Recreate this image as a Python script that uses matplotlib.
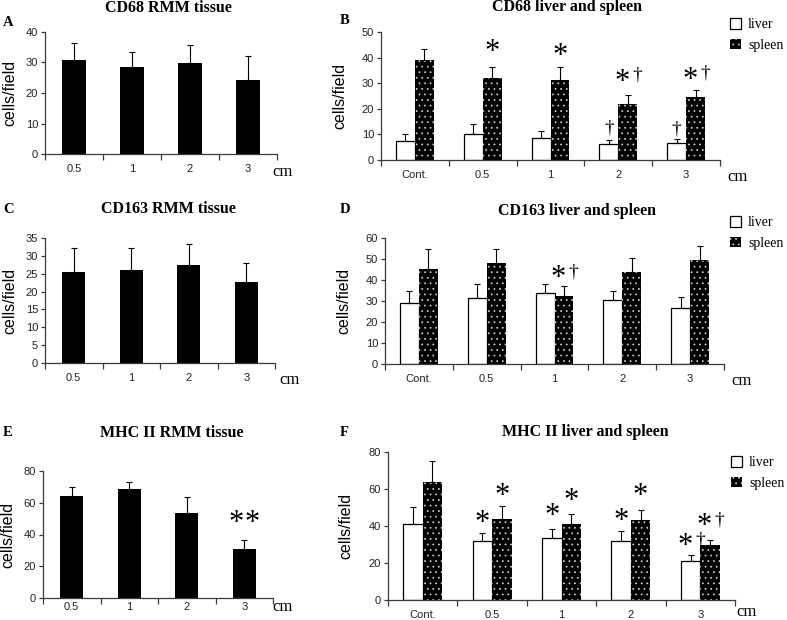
import matplotlib
import numpy as np

matplotlib.use("Agg")
import matplotlib.pyplot as plt
from matplotlib.patches import Patch

# ---- data ----
cats_rmm = ["0.5", "1", "2", "3"]
cats_ls = ["Cont.", "0.5", "1", "2", "3"]

cd68_rmm = [30.7, 28.4, 29.8, 24.4]
cd68_rmm_err = [5.7, 5.0, 6.1, 7.7]
cd68_liver = [7.5, 10.2, 8.7, 6.2, 6.8]
cd68_liver_err = [2.5, 3.8, 2.8, 1.8, 1.5]
cd68_spleen = [39.0, 32.0, 31.2, 21.8, 24.5]
cd68_spleen_err = [4.5, 4.5, 5.1, 3.7, 2.8]

cd163_rmm = [25.6, 26.0, 27.5, 22.7]
cd163_rmm_err = [6.7, 6.3, 5.8, 5.2]
cd163_liver = [29.2, 31.2, 33.6, 30.7, 26.8]
cd163_liver_err = [5.5, 6.7, 4.5, 4.0, 5.0]
cd163_spleen = [45.1, 48.3, 32.3, 43.6, 49.3]
cd163_spleen_err = [9.6, 6.5, 5.0, 6.8, 6.8]

mhc_rmm = [64.2, 68.5, 53.5, 30.6]
mhc_rmm_err = [5.6, 4.4, 10.1, 6.1]
mhc_liver = [41.3, 31.8, 33.5, 31.9, 21.0]
mhc_liver_err = [9.0, 4.2, 4.9, 5.4, 3.1]
mhc_spleen = [63.6, 43.8, 41.2, 43.3, 29.7]
mhc_spleen_err = [11.6, 7.0, 5.4, 5.5, 2.7]

# significance marks: (category index, series, label, y value of the mark)
marks_b = [(1, "spleen", "*", 44.1), (2, "spleen", "*", 42.2),
           (3, "spleen", "*†", 32.4), (4, "spleen", "*†", 33.2),
           (3, "liver", "†", 12.9), (4, "liver", "†", 12.5)]
marks_d = [(2, "spleen", "*†", 43.0)]
marks_e = [(3, None, "**", 50.0)]
marks_f = [(1, "liver", "*", 44.3), (2, "liver", "*", 48.0), (3, "liver", "*", 45.4),
           (1, "spleen", "*", 58.4), (2, "spleen", "*", 56.0), (3, "spleen", "*", 58.4),
           (4, "liver", "*†", 31.4), (4, "spleen", "*†", 42.4)]

W, H = 787, 620
SERIF = "Liberation Serif"
SANS = "Liberation Sans"
AXCOL = "#3a3a3a"
PAIR_W = 0.28
SINGLE_W = 0.4

plt.rcParams["hatch.linewidth"] = 0.5

fig = plt.figure(figsize=(W / 100, H / 100), dpi=100)


def add_axes(left, top, right, bottom):
    return fig.add_axes([left / W, 1 - bottom / H, (right - left) / W, (bottom - top) / H])


def ftext(x, y, s, **kw):
    fig.text(x / W, 1 - y / H, s, **kw)


def style_axes(ax, cats, ymax, ystep, label_pad, ylab_x):
    n = len(cats)
    for side in ("top", "right"):
        ax.spines[side].set_visible(False)
    for side in ("left", "bottom"):
        ax.spines[side].set_color(AXCOL)
        ax.spines[side].set_linewidth(0.9)
    ax.set_xlim(-0.5, n - 0.5)
    ax.set_ylim(0, ymax)
    ax.set_yticks(np.arange(0, ymax + 0.1, ystep))
    ax.set_xticks(range(n))
    ax.set_xticklabels(cats, fontfamily=SANS, fontsize=8, color="#222222")
    ax.set_xticks(np.arange(n + 1) - 0.5, minor=True)
    ax.tick_params(axis="x", which="major", length=0, pad=label_pad)
    ax.tick_params(axis="x", which="minor", length=4, width=0.9, color=AXCOL, direction="out")
    ax.tick_params(axis="y", length=3, width=0.9, color=AXCOL, direction="out", pad=2,
                   labelsize=8, labelcolor="#222222")
    for lab in ax.get_yticklabels():
        lab.set_fontfamily(SANS)
    ax.set_ylabel("cells/field", fontfamily=SANS, fontsize=11.5)
    ax.yaxis.set_label_coords(ylab_x, 0.5)


def single_panel(ax, means, errs):
    x = np.arange(len(means))
    ax.bar(x, means, width=SINGLE_W, color="black", linewidth=0)
    ax.errorbar(x, means, yerr=[np.zeros(len(errs)), errs], fmt="none", ecolor="black",
                elinewidth=0.8, capsize=2.5, capthick=0.8)
    return x


def pair_panel(ax, liver, liver_err, spleen, spleen_err):
    x = np.arange(len(liver))
    xl = x - PAIR_W / 2
    xs = x + PAIR_W / 2
    ax.bar(xl, liver, width=PAIR_W, color="white", edgecolor="black", linewidth=0.9)
    ax.bar(xs, spleen, width=PAIR_W, color="black", edgecolor="#d8d8d8", hatch="...",
           linewidth=0)
    ax.errorbar(xl, liver, yerr=[np.zeros(len(liver)), liver_err], fmt="none",
                ecolor="black", elinewidth=0.8, capsize=2.5, capthick=0.8)
    ax.errorbar(xs, spleen, yerr=[np.zeros(len(spleen)), spleen_err], fmt="none",
                ecolor="black", elinewidth=0.8, capsize=2.5, capthick=0.8)
    return xl, xs


def draw_marks(ax, marks, positions):
    for idx, series, label, y in marks:
        xc = positions[series][idx]
        if label == "**":
            for dx in (-6, 6):
                ax.annotate("*", (xc, y), xytext=(dx, -9), textcoords="offset points",
                            ha="center", va="baseline", fontfamily=SERIF, fontsize=22)
        elif label == "*":
            ax.annotate("*", (xc, y), xytext=(0, -9), textcoords="offset points",
                        ha="center", va="baseline", fontfamily=SERIF, fontsize=22)
        elif label == "*†":
            ax.annotate("*", (xc, y), xytext=(-4, -9), textcoords="offset points",
                        ha="center", va="baseline", fontfamily=SERIF, fontsize=22)
            ax.annotate("†", (xc, y), xytext=(7, -2), textcoords="offset points",
                        ha="center", va="baseline", fontfamily=SERIF, fontsize=14)
        elif label == "†":
            ax.annotate("†", (xc, y), xytext=(0, -4), textcoords="offset points",
                        ha="center", va="baseline", fontfamily=SERIF, fontsize=14)


def add_legend(x, y):
    handles = [Patch(facecolor="white", edgecolor="black", linewidth=0.9, label="liver"),
               Patch(facecolor="black", edgecolor="#d8d8d8", hatch="...", linewidth=0,
                     label="spleen")]
    fig.legend(handles=handles, loc="upper left", bbox_to_anchor=(x / W, 1 - y / H),
               bbox_transform=fig.transFigure, frameon=False, borderpad=0,
               borderaxespad=0, handlelength=0.8, handleheight=0.8, handletextpad=0.5,
               labelspacing=0.55, prop={"family": SERIF, "size": 10})


# ---- A: CD68 RMM tissue ----
ax = add_axes(45, 32, 277, 154)
x = single_panel(ax, cd68_rmm, cd68_rmm_err)
style_axes(ax, cats_rmm, 40, 10, 7, -0.12)
ftext(168, 8, "CD68 RMM tissue", ha="center", va="center", fontfamily=SERIF,
      fontweight="bold", fontsize=11.5)
ftext(3, 22, "A", ha="left", va="center", fontfamily=SERIF, fontweight="bold", fontsize=10.5)
ftext(283, 172, "cm", ha="center", va="center", fontfamily=SERIF, fontsize=12)

# ---- B: CD68 liver and spleen ----
ax = add_axes(381, 32, 720, 160)
xl, xs = pair_panel(ax, cd68_liver, cd68_liver_err, cd68_spleen, cd68_spleen_err)
style_axes(ax, cats_ls, 50, 10, 7, -0.1)
draw_marks(ax, marks_b, {"liver": xl, "spleen": xs})
ftext(567, 7, "CD68 liver and spleen", ha="center", va="center", fontfamily=SERIF,
      fontweight="bold", fontsize=11.5)
ftext(340, 20, "B", ha="left", va="center", fontfamily=SERIF, fontweight="bold", fontsize=10.5)
ftext(738, 177, "cm", ha="center", va="center", fontfamily=SERIF, fontsize=12)
add_legend(730, 18)

# ---- C: CD163 RMM tissue ----
ax = add_axes(45, 238, 275, 363)
single_panel(ax, cd163_rmm, cd163_rmm_err)
style_axes(ax, cats_rmm, 35, 5, 7, -0.12)
ftext(168, 209, "CD163 RMM tissue", ha="center", va="center", fontfamily=SERIF,
      fontweight="bold", fontsize=11.5)
ftext(3, 210, "C", ha="left", va="center", fontfamily=SERIF, fontweight="bold", fontsize=10.5)
ftext(290, 380, "cm", ha="center", va="center", fontfamily=SERIF, fontsize=12)

# ---- D: CD163 liver and spleen ----
ax = add_axes(385, 238, 724, 364)
xl, xs = pair_panel(ax, cd163_liver, cd163_liver_err, cd163_spleen, cd163_spleen_err)
style_axes(ax, cats_ls, 60, 10, 7, -0.1)
draw_marks(ax, marks_d, {"liver": xl, "spleen": xs})
ftext(577, 211, "CD163 liver and spleen", ha="center", va="center", fontfamily=SERIF,
      fontweight="bold", fontsize=11.5)
ftext(340, 210, "D", ha="left", va="center", fontfamily=SERIF, fontweight="bold", fontsize=10.5)
ftext(742, 381, "cm", ha="center", va="center", fontfamily=SERIF, fontsize=12)
add_legend(730, 216)

# ---- E: MHC II RMM tissue ----
ax = add_axes(43, 471, 273, 598)
x = single_panel(ax, mhc_rmm, mhc_rmm_err)
style_axes(ax, cats_rmm, 80, 20, 3, -0.12)
draw_marks(ax, marks_e, {None: x})
ftext(172, 433, "MHC II RMM tissue", ha="center", va="center", fontfamily=SERIF,
      fontweight="bold", fontsize=11.5)
ftext(3, 433, "E", ha="left", va="center", fontfamily=SERIF, fontweight="bold", fontsize=10.5)
ftext(283, 607, "cm", ha="center", va="center", fontfamily=SERIF, fontsize=12)

# ---- F: MHC II liver and spleen ----
ax = add_axes(388, 452, 735, 600)
xl, xs = pair_panel(ax, mhc_liver, mhc_liver_err, mhc_spleen, mhc_spleen_err)
style_axes(ax, cats_ls, 80, 20, 7, -0.1)
draw_marks(ax, marks_f, {"liver": xl, "spleen": xs})
ftext(585, 432, "MHC II liver and spleen", ha="center", va="center", fontfamily=SERIF,
      fontweight="bold", fontsize=11.5)
ftext(340, 433, "F", ha="left", va="center", fontfamily=SERIF, fontweight="bold", fontsize=10.5)
ftext(747, 612, "cm", ha="center", va="center", fontfamily=SERIF, fontsize=12)
add_legend(731, 456)

plt.savefig("out.png", dpi=100)
plt.close()
